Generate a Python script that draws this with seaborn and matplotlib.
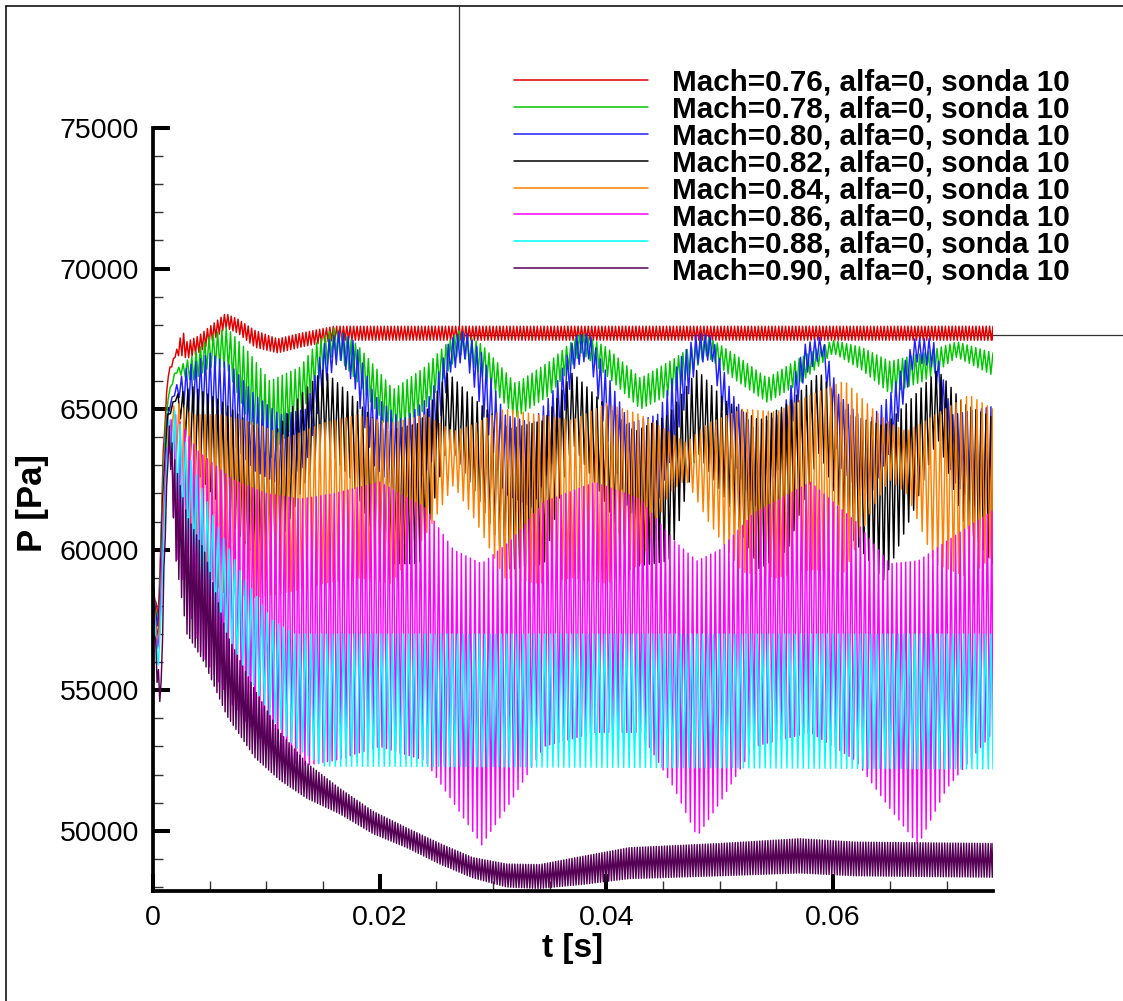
import numpy as np
import pandas as pd
import matplotlib
matplotlib.use("Agg")
import matplotlib.pyplot as plt
from matplotlib.lines import Line2D
from matplotlib.ticker import MultipleLocator, FuncFormatter
import seaborn as sns

# ---------------------------------------------------------------------------
# Pressure at probe 10: each run is stored as upper/lower envelope knots of the
# fast pressure oscillation (t in s, P in Pa).
# ---------------------------------------------------------------------------
T_END = 0.0741

labels = [
    "Mach=0.76, alfa=0, sonda 10",
    "Mach=0.78, alfa=0, sonda 10",
    "Mach=0.80, alfa=0, sonda 10",
    "Mach=0.82, alfa=0, sonda 10",
    "Mach=0.84, alfa=0, sonda 10",
    "Mach=0.86, alfa=0, sonda 10",
    "Mach=0.88, alfa=0, sonda 10",
    "Mach=0.90, alfa=0, sonda 10",
]
colors = ["#e00000", "#00c800", "#2020ff", "#000000",
          "#ff8000", "#ff00ff", "#00ffff", "#550055"]

t_m076 = [0, 0.0005, 0.0009, 0.0013, 0.0020, 0.0026, 0.0030, 0.0040, 0.0052,
          0.0064, 0.0075, 0.0090, 0.0110, 0.0130, 0.0160, 0.0200, 0.0741]
up_m076 = [58800, 57600, 63500, 66300, 67000, 67800, 67400, 67600, 68000,
           68400, 68200, 67800, 67500, 67700, 67950, 67950, 67950]
lo_m076 = [58600, 57400, 63300, 66100, 66900, 66900, 66800, 67000, 67400,
           67900, 67700, 67200, 67000, 67200, 67450, 67450, 67450]

t_m078 = [0, 0.0005, 0.0009, 0.0013, 0.0020, 0.0035, 0.0050, 0.0065, 0.0085,
          0.0103, 0.0130, 0.0145, 0.0160, 0.0180, 0.0212, 0.0240, 0.0270,
          0.0290, 0.0320, 0.0350, 0.0378, 0.0400, 0.0430, 0.0460, 0.0488,
          0.0515, 0.0542, 0.0570, 0.0600, 0.0625, 0.0650, 0.0680, 0.0709, 0.0741]
up_m078 = [58700, 57200, 63000, 65500, 66400, 66900, 67600, 67900, 67000,
           66000, 66500, 67400, 67900, 67300, 65700, 66500, 67800,
           67300, 65900, 66700, 67700, 67200, 66100, 66800, 67600,
           66900, 66100, 66800, 67450, 67200, 66700, 67000, 67400, 67000]
lo_m078 = [58500, 57000, 62800, 65300, 66300, 66000, 66500, 66500, 64500,
           63200, 64800, 66000, 67000, 66000, 64000, 65000, 67000,
           66200, 64700, 65500, 67000, 66200, 65000, 65600, 66900,
           66000, 65240, 65900, 67000, 66400, 65560, 66000, 66850, 66200]

t_m080 = [0, 0.0005, 0.0009, 0.0013, 0.0020, 0.0030, 0.0050, 0.0070, 0.0090,
          0.0112, 0.0135, 0.0150, 0.0165, 0.0178, 0.0195, 0.0220, 0.0245,
          0.0262, 0.0275, 0.0290, 0.0310, 0.0335, 0.0355, 0.0372, 0.0385,
          0.0400, 0.0420, 0.0445, 0.0465, 0.0480, 0.0493, 0.0510, 0.0530,
          0.0555, 0.0575, 0.0590, 0.0605, 0.0630, 0.0650, 0.0672, 0.0688,
          0.0705, 0.0741]
up_m080 = [58800, 57000, 62500, 65000, 65800, 66500, 67000, 66500, 65500,
           64800, 65000, 67300, 67800, 67400, 65500, 64600, 65500,
           67500, 67800, 67000, 64800, 64500, 65800, 67600, 67700,
           66300, 64500, 64800, 66800, 67700, 67600, 65600, 64300,
           64900, 67300, 67600, 65500, 64500, 65500, 67500, 67500,
           64800, 65100]
lo_m080 = [58600, 56800, 62300, 64800, 65600, 65000, 64600, 63800, 62800,
           62300, 63000, 65800, 66800, 65800, 63000, 61800, 63000,
           66300, 66800, 65000, 62000, 61500, 63500, 66500, 66800,
           64000, 61300, 61500, 64500, 66600, 66800, 63300, 61500,
           63000, 66200, 66900, 63000, 61500, 63500, 66700, 66500,
           62500, 60800]

t_m082 = [0, 0.0005, 0.0009, 0.0013, 0.0020, 0.0035, 0.0060, 0.0085, 0.0105,
          0.0130, 0.0150, 0.0175, 0.0205, 0.0235, 0.0260, 0.0285, 0.0315,
          0.0345, 0.0370, 0.0395, 0.0425, 0.0455, 0.0480, 0.0505, 0.0535,
          0.0560, 0.0588, 0.0615, 0.0645, 0.0672, 0.0692, 0.0715, 0.0741]
up_m082 = [58700, 56500, 62000, 64800, 65500, 65800, 65300, 64500, 64000,
           65500, 66400, 65500, 64200, 64500, 66300, 65300, 64300,
           64600, 66300, 65300, 64200, 64800, 66400, 65300, 64600,
           65200, 66300, 64800, 64400, 65500, 66400, 65200, 64700]
lo_m082 = [58500, 56300, 61800, 64600, 65300, 63000, 61500, 60000, 59500,
           62000, 63800, 62500, 59500, 59500, 63800, 62000, 59300,
           59500, 63800, 62000, 59400, 59600, 63500, 61800, 59300,
           60000, 63500, 60500, 58900, 61500, 64000, 61000, 59500]

t_m084 = [0, 0.0005, 0.0009, 0.0013, 0.0020, 0.0035, 0.0060, 0.0090, 0.0120,
          0.0150, 0.0180, 0.0210, 0.0240, 0.0265, 0.0285, 0.0310, 0.0340,
          0.0370, 0.0400, 0.0430, 0.0455, 0.0470, 0.0490, 0.0520, 0.0550,
          0.0580, 0.0610, 0.0635, 0.0650, 0.0665, 0.0690, 0.0720, 0.0741]
up_m084 = [58600, 56400, 61500, 64500, 65300, 64800, 64800, 64500, 64000,
           64500, 64800, 64500, 64800, 64200, 64500, 65000, 64800,
           64600, 65200, 64800, 64200, 63800, 64500, 65000, 64900,
           65500, 66000, 65000, 64500, 64200, 64800, 65500, 65000]
lo_m084 = [58400, 56200, 61300, 64300, 63500, 60000, 58500, 58300, 58500,
           58800, 59000, 58800, 60500, 62300, 61000, 59000, 58800,
           59000, 58800, 59500, 62000, 62500, 61000, 59200, 59000,
           59300, 59200, 61500, 62500, 62000, 59500, 59000, 59800]

t_m086 = [0, 0.0005, 0.0009, 0.0013, 0.0020, 0.0040, 0.0070, 0.0100, 0.0130,
          0.0160, 0.0200, 0.0240, 0.0265, 0.0290, 0.0315, 0.0345, 0.0390,
          0.0430, 0.0460, 0.0480, 0.0500, 0.0530, 0.0580, 0.0620, 0.0650,
          0.0675, 0.0700, 0.0741]
up_m086 = [58500, 56000, 61000, 64500, 64800, 63500, 62500, 62000, 61800,
           62000, 62400, 61500, 60000, 59500, 60300, 61700, 62400,
           61800, 60300, 59600, 60000, 61300, 62400, 61000, 59500,
           59600, 60300, 61400]
lo_m086 = [58300, 55800, 60800, 64000, 60000, 56500, 54500, 53000, 52300,
           52500, 53000, 52500, 51000, 49500, 51000, 53000, 53500,
           53500, 51500, 49800, 51000, 53000, 53500, 52500, 50800,
           49500, 51500, 53500]

t_m088 = [0, 0.0005, 0.0009, 0.0013, 0.0020, 0.0035, 0.0055, 0.0080, 0.0105,
          0.0125, 0.0150, 0.0741]
up_m088 = [58400, 55800, 60000, 64500, 65000, 63000, 61000, 59000, 57500,
           57000, 57000, 57000]
lo_m088 = [58200, 55500, 59800, 64000, 62000, 59500, 57500, 55800, 54000,
           53000, 52300, 52200]

t_m090 = [0, 0.0004, 0.0007, 0.0010, 0.0014, 0.0020, 0.0030, 0.0045, 0.0065,
          0.0090, 0.0112, 0.0136, 0.0165, 0.0194, 0.0224, 0.0253, 0.0282,
          0.0312, 0.0341, 0.0380, 0.0420, 0.0500, 0.0570, 0.0620, 0.0741]
up_m090 = [58000, 56000, 55000, 60000, 64500, 63000, 61200, 60000, 57000,
           55000, 53500, 52400, 51500, 50700, 50100, 49550, 49050,
           48820, 48800, 49100, 49400, 49550, 49720, 49600, 49550]
lo_m090 = [57800, 55000, 54400, 59500, 64000, 59700, 57000, 56000, 54100,
           52600, 51800, 51150, 50600, 49900, 49400, 48820, 48330,
           48000, 47950, 48100, 48300, 48400, 48500, 48400, 48350]

envelopes = [
    (t_m076, up_m076, lo_m076),
    (t_m078, up_m078, lo_m078),
    (t_m080, up_m080, lo_m080),
    (t_m082, up_m082, lo_m082),
    (t_m084, up_m084, lo_m084),
    (t_m086, up_m086, lo_m086),
    (t_m088, up_m088, lo_m088),
    (t_m090, up_m090, lo_m090),
]
# sampling half-period of the oscillation for each run [s]
half_periods = [0.00015, 0.00019, 0.00021, 0.00022,
                0.00023, 0.00020, 0.00024, 0.00012]


def oscillating_trace(t_knots, upper, lower, step):
    """Alternate between the upper and lower envelope every half period."""
    t = np.arange(0.0, T_END, step)
    t = np.append(t, T_END)
    up = np.interp(t, t_knots, upper)
    lo = np.interp(t, t_knots, lower)
    p = np.where(np.arange(t.size) % 2 == 0, up, lo)
    return t, p


frames = []
for label, (tk, up, lo), step in zip(labels, envelopes, half_periods):
    t, p = oscillating_trace(tk, up, lo, step)
    frames.append(pd.DataFrame({"t": t, "P": p, "run": label}))
df = pd.concat(frames, ignore_index=True)

# ---------------------------------------------------------------------------
sns.set_style("white")
plt.rcParams["font.family"] = ["Liberation Sans", "DejaVu Sans"]
plt.rcParams.update({
    "text.color": "black",
    "axes.labelcolor": "black",
    "xtick.color": "black",
    "ytick.color": "black",
})

W, H = 1123, 1001
fig = plt.figure(figsize=(W / 100, H / 100), dpi=100)
fig.patch.set_facecolor("white")


def fx(px):
    return px / W


def fy(py):
    return 1 - py / H


ax = fig.add_axes([fx(153), fy(891), fx(993) - fx(153), fy(128) - fy(891)])
ax.patch.set_alpha(0)

sns.lineplot(data=df, x="t", y="P", hue="run", hue_order=labels,
             palette=colors, estimator=None, sort=False, linewidth=1.05,
             legend=False, ax=ax)

ax.set_xlim(0, T_END)
ax.set_ylim(47860, 75000)

for side in ("top", "right"):
    ax.spines[side].set_visible(False)
for side in ("left", "bottom"):
    ax.spines[side].set_linewidth(2.7)
    ax.spines[side].set_color("black")
    ax.spines[side].set_capstyle("projecting")

ax.xaxis.set_major_locator(MultipleLocator(0.02))
ax.xaxis.set_minor_locator(MultipleLocator(0.005))
ax.yaxis.set_major_locator(MultipleLocator(5000))
ax.yaxis.set_minor_locator(MultipleLocator(1000))
ax.xaxis.set_major_formatter(FuncFormatter(lambda v, _: "0" if abs(v) < 1e-12 else f"{v:.2f}"))
ax.yaxis.set_major_formatter(FuncFormatter(lambda v, _: f"{int(round(v))}"))

ax.tick_params(which="both", bottom=True, left=True, top=False, right=False)
ax.tick_params(which="major", direction="in", length=12.5, width=2.9,
               color="black", labelcolor="black", pad=10, labelsize=20.5)
ax.tick_params(which="minor", direction="in", length=7, width=1.0,
               color="#333333")

ax.set_xlabel("t [s]", fontsize=24, fontweight="bold")
ax.set_ylabel("P [Pa]", fontsize=25, fontweight="bold")
ax.xaxis.label.set_va("center")
ax.xaxis.set_label_coords(0.499, -0.076)
ax.yaxis.label.set_va("center")
ax.yaxis.label.set_ha("center")
ax.yaxis.set_label_coords(-0.143, 0.508)

# page frame and layout guide lines
frame_kw = dict(color="black", linewidth=1.1, zorder=-1)
fig.add_artist(Line2D([fx(6), fx(6)], [fy(6), 0], **frame_kw))
fig.add_artist(Line2D([fx(6), 1], [fy(6), fy(6)], **frame_kw))
guide_kw = dict(color="#333333", linewidth=0.9, zorder=-1)
fig.add_artist(Line2D([fx(459), fx(459)], [fy(6), fy(335)], **guide_kw))
fig.add_artist(Line2D([fx(459), 1], [fy(335), fy(335)], **guide_kw))

# legend: line samples plus one text block with the run names
row0, pitch = 80.3, 26.8
for i, color in enumerate(colors):
    y_line = row0 + pitch * i
    fig.add_artist(Line2D([fx(514), fx(648)], [fy(y_line), fy(y_line)],
                          color=color, linewidth=1.1))
fig.text(fx(672), fy(row0 - 12.0), "\n".join(labels), fontsize=21.3,
         fontweight="bold", ha="left", va="top", linespacing=0.957)

fig.savefig("out.png", dpi=100)
